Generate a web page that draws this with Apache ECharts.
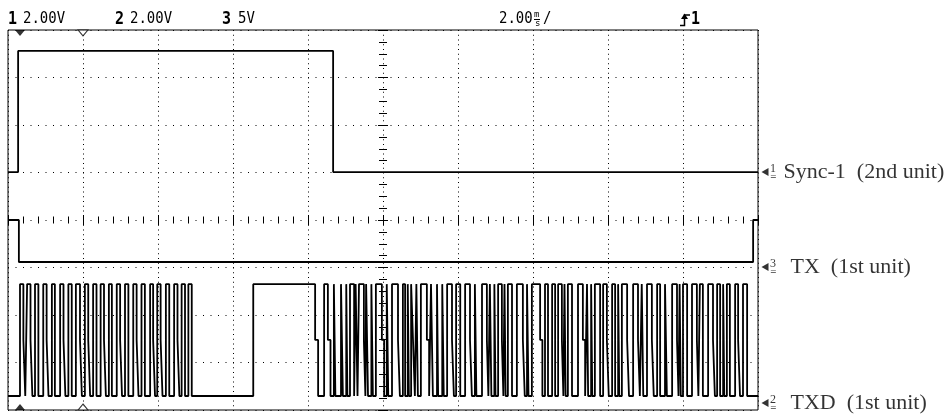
<!DOCTYPE html>
<html><head><meta charset="utf-8">
<script src="https://cdn.jsdelivr.net/npm/echarts@6/dist/echarts.min.js"></script>
<style>html,body{margin:0;padding:0;background:#fff}#c{width:949px;height:417px}</style>
</head><body><div id="c"></div>
<script>
// ---- channel settings (scope header) ----
const channelNames   = ['Sync-1  (2nd unit)', 'TX  (1st unit)', 'TXD  (1st unit)'];
const channelNumbers = ['1', '3', '2'];
const voltsPerDiv    = [2, 5, 2];          // ch1 2.00V, ch3 5V, ch2 2.00V
const groundDiv      = [1.01, -0.99, -3.85]; // ground reference, divisions from centre

// ---- Sync-1 (ch1): [time ms, volts] level changes ----
const syncLevels = [[-10, 0], [-9.73, 5.1], [-1.33, 0], [10, 0]];
// ---- TX (ch3) ----
const txLevels = [[-10, 4.95], [-9.71, 0.53], [9.87, 4.95], [10, 4.95]];
// ---- TXD (ch2) levels in volts: high, mid, low ----
const txdVolts = [5.0, 2.65, 0.29];
// TXD pulses [rise ms, fall ms]
const txdPulses = [
  [-9.68,-9.59],[-9.49,-9.40],[-9.28,-9.19],[-9.06,-8.97],[-8.83,-8.75],[-8.61,-8.52],
  [-8.39,-8.30],[-8.19,-8.08],[-7.95,-7.86],[-7.73,-7.64],[-7.53,-7.44],[-7.31,-7.23],
  [-7.10,-7.01],[-6.88,-6.79],[-6.66,-6.57],[-6.44,-6.35],[-6.21,-6.13],[-6.02,-5.93],
  [-5.79,-5.70],[-5.57,-5.48],[-5.37,-5.28],[-5.19,-5.10],
  [-3.46,-1.81],
  [-1.57,-1.47],[-1.31,-1.27],[-1.12,-1.07],[-0.98,-0.95],[-0.88,-0.77],[-0.73,-0.68],
  [-0.64,-0.51],[-0.45,-0.40],[-0.31,-0.27],[-0.19,-0.03],[0.10,0.14],[0.24,0.40],
  [0.53,0.59],[0.66,0.69],[0.75,0.80],[0.89,0.93],[1.01,1.17],[1.28,1.33],[1.44,1.47],
  [1.58,1.62],[1.71,1.84],[1.95,2.06],[2.19,2.32],[2.45,2.49],[2.64,2.77],[2.85,2.89],
  [2.97,3.00],[3.07,3.17],[3.24,3.27],[3.33,3.44],[3.57,3.73],[3.84,3.88],[3.97,4.19],
  [4.32,4.40],[4.51,4.59],[4.67,4.77],[4.84,4.87],[4.93,5.04],[5.20,5.33],[5.44,5.47],
  [5.55,5.58],[5.65,5.79],[5.87,5.97],[6.11,6.19],[6.27,6.30],[6.37,6.51],[6.67,6.80],
  [6.90,6.94],[7.04,7.17],[7.31,7.39],[7.52,7.57],[7.71,7.84],[7.91,7.94],[8.00,8.11],
  [8.24,8.37],[8.45,8.53],[8.67,8.80],[8.91,8.99],[9.07,9.10],[9.17,9.25],[9.39,9.47],
  [9.60,9.71]
];
// falls that pause at the mid level: [start ms, end ms]
const txdMidSteps = [
  [-9.59,-9.54],[-9.40,-9.35],[-8.97,-8.92],[-8.52,-8.47],[-8.08,-8.03],[-7.86,-7.81],
  [-7.44,-7.39],[-7.01,-6.96],[-6.57,-6.52],[-6.13,-6.08],[-5.93,-5.88],[-5.48,-5.43],
  [-1.81,-1.73],[-1.47,-1.40],[-0.51,-0.47],[-0.03,0.03],[0.40,0.45],[0.80,0.85],
  [1.17,1.23],[1.84,1.89],[2.32,2.37],[2.77,2.81],[3.17,3.21],[3.73,3.78],[4.19,4.25],
  [4.77,4.81],[5.33,5.39],[5.97,6.02],[6.51,6.56],[6.80,6.85],[7.17,7.22],[7.84,7.88],
  [8.37,8.41],[8.80,8.85],[9.47,9.52]
];
// scope position markers (ms)
const markerTimes = [-9.68, -8.0];

// ---- build series data ----
function toDiv(levels, ch) {
  return levels.map(p => [p[0], groundDiv[ch] + p[1] / voltsPerDiv[ch]]);
}
function buildTxd() {
  const [H, M, L] = txdVolts;
  const ev = [[-10, L]];
  txdPulses.forEach(([r, f]) => { ev.push([r, H]); ev.push([f, L]); });
  txdMidSteps.forEach(([s, e]) => {
    const k = ev.findIndex(p => Math.abs(p[0] - s) < 1e-9 && p[1] === L);
    if (k >= 0) ev[k] = [s, M];
    ev.push([e, L]);
  });
  ev.push([10, L]);
  ev.sort((a, b) => a[0] - b[0]);
  return ev;
}

const chart = echarts.init(document.getElementById('c'), null, {renderer: 'canvas'});
const black = '#000';
const dotH = {color: black, width: 1, type: [1, 6.5]};
const dotV = {color: black, width: 1, type: [1, 3.75]};
const hidden = {axisLabel: {show: false}, axisLine: {show: false, onZero: false}, axisTick: {show: false}, splitLine: {show: false}};

function centreX(inside) {
  return {type: 'value', min: -10, max: 10, interval: 2, position: 'bottom', gridIndex: 0,
    axisLabel: {show: false}, splitLine: {show: false},
    axisLine: {show: false, onZero: true, onZeroAxisIndex: 0},
    axisTick: {show: true, inside: inside, length: 5, lineStyle: {color: black, width: 1}},
    minorTick: {show: true, splitNumber: 5, length: 3.5, lineStyle: {color: black, width: 1}}};
}
function centreY(inside) {
  return {type: 'value', min: -4, max: 4, interval: 1, position: 'left', gridIndex: 0,
    axisLabel: {show: false}, splitLine: {show: false},
    axisLine: {show: false, onZero: true, onZeroAxisIndex: 0},
    axisTick: {show: true, inside: inside, length: 5, lineStyle: {color: black, width: 1}},
    minorTick: {show: true, splitNumber: 4, length: 4, lineStyle: {color: black, width: 1}}};
}

const traceStyle = {color: black, width: 1.8};
function trace(name, data) {
  return {name, type: 'line', step: 'end', data, symbol: 'none', silent: true,
    xAxisIndex: 0, yAxisIndex: 0, lineStyle: traceStyle, animation: false, z: 5};
}
const triDown = 'path://M0,0L10,0L5,6Z';
const triUp = 'path://M5,0L10,6L0,6Z';
const triLeft = 'path://M0,4L8,0L8,8Z';
function marker(data, path, filled, off) {
  return {type: 'scatter', data, symbol: path, symbolSize: [10, 6], symbolOffset: [0, off],
    clip: false, silent: true, animation: false, z: 6,
    itemStyle: {color: filled ? black : '#fff', borderColor: black, borderWidth: filled ? 0 : 1}};
}
const labelGap = [15, 22, 22];
const monoFont = '14px "DejaVu Sans Mono"';
const monoBold = 'bold 15px "DejaVu Sans Mono"';
function hdr(x, text, font) {
  return {type: 'text', left: x, top: 11, scaleY: 1.15, style: {text, font, fill: black}};
}

const option = {
  backgroundColor: '#fff',
  animation: false,
  grid: {left: 8, top: 30, width: 750, height: 380, show: true, borderColor: black, borderWidth: 1,
         backgroundColor: '#fff', outerBoundsMode: 'none', containLabel: false},
  xAxis: [
    Object.assign({type: 'value', min: -10, max: 10, interval: 2}, hidden, {splitLine: {show: true, lineStyle: dotV}}),
    centreX(false), centreX(true)
  ],
  yAxis: [
    Object.assign({type: 'value', min: -4, max: 4, interval: 1}, hidden, {splitLine: {show: true, lineStyle: dotH}}),
    centreY(false), centreY(true)
  ],
  series: [
    trace('Sync-1', toDiv(syncLevels, 0)),
    trace('TX', toDiv(txLevels, 1)),
    trace('TXD', toDiv(buildTxd(), 2)),
    marker([[markerTimes[0], 4]], triDown, true, 3),
    marker([[markerTimes[1], 4]], triDown, false, 3),
    marker([[markerTimes[0], -4]], triUp, true, -3),
    marker([[markerTimes[1], -4]], triUp, false, -3),
    {type: 'scatter', clip: false, silent: true, animation: false,
     data: groundDiv.map((g, i) => ({value: [10, g], label: {distance: labelGap[i]}})),
     symbol: triLeft, symbolSize: [7, 8], symbolOffset: [7, 0], itemStyle: {color: black},
     label: {show: true, position: 'right', color: black, fontFamily: 'Liberation Serif', fontSize: 22,
             formatter: p => channelNames[p.dataIndex]}},
    {type: 'scatter', clip: false, silent: true, animation: false,
     data: groundDiv.map(g => [10, g]), symbolSize: 0,
     label: {show: true, position: 'right', distance: 0, offset: [12, 0], color: black,
             formatter: p => '{n|' + channelNumbers[p.dataIndex] + '}\n{g|=}',
             rich: {n: {fontFamily: 'Liberation Serif', fontSize: 12, lineHeight: 10, color: black},
                    g: {fontFamily: 'DejaVu Sans', fontSize: 8, lineHeight: 7, color: black}}}}
  ],
  graphic: [
    hdr(8, '1', monoBold), hdr(23, '2.00V', monoFont),
    hdr(115, '2', monoBold), hdr(130, '2.00V', monoFont),
    hdr(222, '3', monoBold), hdr(238, '5V', monoFont),
    hdr(499, '2.00', monoFont),
    {type: 'text', left: 534, top: 10, style: {text: 'm', font: '9px "DejaVu Sans Mono"', fill: black}},
    {type: 'text', left: 535, top: 19, style: {text: 's', font: '9px "DejaVu Sans Mono"', fill: black}},
    {type: 'line', shape: {x1: 534, y1: 19.5, x2: 540, y2: 19.5}, style: {stroke: black, lineWidth: 1}},
    hdr(543, '/', monoFont),
    {type: 'polyline', shape: {points: [[680, 25.5], [684.5, 25.5], [684.5, 15], [690, 15]]}, style: {stroke: black, lineWidth: 1.5, fill: null}},
    {type: 'polygon', shape: {points: [[681, 19], [684.5, 13.5], [688, 19]]}, style: {fill: black}},
    hdr(691, '1', monoBold)
  ]
};
chart.setOption(option);
</script></body></html>
